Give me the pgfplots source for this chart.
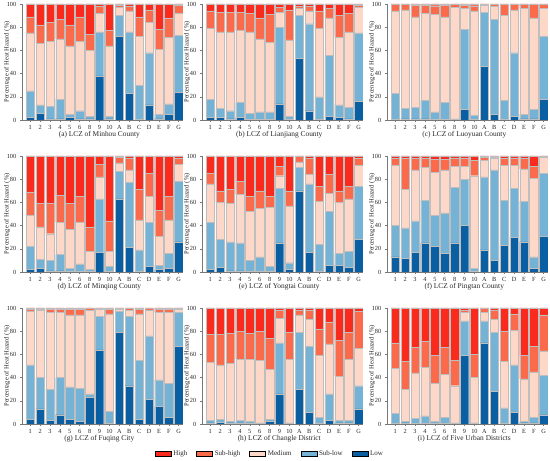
\documentclass[border=0pt]{standalone}
\usepackage{fontspec}
\setmainfont{Liberation Serif}
\usepackage{pgfplots}
\usepackage{pgfplotstable}
\pgfplotsset{compat=1.18}
\definecolor{cHigh}{RGB}{250,42,28}
\definecolor{cSubHigh}{RGB}{251,106,74}
\definecolor{cMed}{RGB}{253,215,199}
\definecolor{cSubLow}{RGB}{116,178,214}
\definecolor{cLow}{RGB}{10,94,162}
\definecolor{bargray}{RGB}{190,190,190}
\definecolor{axgray}{RGB}{120,120,120}

% columns: x, Low, Sub-low, Medium, Sub-high, High (percent)
\pgfplotstableread{
x L SL M SH H
0 2 23 50 14 11
1 6 7 53 16 18
2 1 11 56 16 16
3 1 17 52 17 13
4 2 3 59 18 18
5 1 7 60 21 11
6 1 2 57 14 26
7 38 38 16 6 2
8 1 2 61 13 23
9 72 18 7 2 1
10 23 53 18 4 2
11 0.5 29.5 42 17 11
12 13 45 26 11 5
13 1 4 56 17 22
14 5 9 57 17 12
15 24 49 19 7 1
}\tblA
\pgfplotstableread{
x L SL M SH H
0 2 16 61 15 6
1 2 8 66 17 7
2 1 7 68 17 7
3 2 13 62 16 7
4 0.5 5.5 70 16 8
5 0.5 6.5 63 18 12
6 0.5 6.5 60 24 9
7 14 66 13 4 3
8 0.5 2.5 66 26 5
9 53 37 6 2 2
10 8 75 11 4 2
11 0.5 19.5 59 15 6
12 3 53 32 8 4
13 2 11 58 19 10
14 1 10 65 16 8
15 16 59 22 2 1
}\tblB
\pgfplotstableread{
x L SL M SH H
0 0.5 22.5 71 5.5 0.5
1 1 9 85 4.5 0.5
2 1 10 78 10 1
3 1 16 75 7 1
4 0.5 6.5 84 7.5 1.5
5 0.5 14.5 74 10 1
6 0.5 0.5 96 2.5 0.5
7 9 69 18 3 1
8 0.5 3.5 90 4.5 1.5
9 46 47 6 0.8 0.2
10 5 82 11 1.5 0.5
11 0.5 16.5 73 9.5 0.5
12 3 55 37 4.5 0.5
13 1 4 91 3.5 0.5
14 1 8 79 11.5 0.5
15 18 54 24 3.5 0.5
}\tblC
\pgfplotstableread{
x L SL M SH H
0 2 20 27 20 31
1 3 8 28 20 41
2 1 9 23 26 41
3 1 14 28 23 34
4 0.5 2.5 34 22 41
5 0.5 6.5 36 22 35
6 0.5 1.5 16 21 61
7 17 46 19 11 7
8 0.5 4.5 13 26 56
9 63 24 7 5 1
10 21 56 11 10 2
11 0.5 18.5 26 26 29
12 5 38 22 20 15
13 2 4 25 22 47
14 3 13 29 20 35
15 26 52 15 5 2
}\tblD
\pgfplotstableread{
x L SL M SH H
0 2 41 33 9 15
1 4 24 32 10 30
2 1 25 33 12 29
3 1 24 42 11 22
4 0.5 9.5 42 13 35
5 0.5 12.5 42 15 30
6 0.5 4.5 51 9 35
7 25 47 11 8 9
8 2 6 49 13 30
9 70 20 5 4.5 0.5
10 17 59 8 14 2
11 0.5 23.5 37 13 26
12 6 46 16 16 16
13 6 10 44 10 30
14 4 14 45 11 26
15 28 46 18 6 2
}\tblE
\pgfplotstableread{
x L SL M SH H
0 13 27 52 6 2
1 12 26 33 27 2
2 17 27 44 10 2
3 25 37 28 8 2
4 22 27 37 11 3
5 16 35 37 9 3
6 25 48 18 7 2
7 40 40 11 7 2
8 0.5 2.5 80 13 4
9 19 63 14 3 1
10 10 78 10 1 1
11 23 39 30 6 2
12 30 42 20 6 2
13 26 35 28 9 2
14 3 10 68 10 9
15 31 54 14 0.5 0.5
}\tblF
\pgfplotstableread{
x L SL M SH H
0 4 47 46 2 1
1 13 27 58 1 1
2 3 27 66 3 1
3 8 32 56 3 1
4 4 28 62 5 1
5 2 29 63 5 1
6 23 3 72 1.5 0.5
7 64 29 6 0.5 0.5
8 0.5 10.5 84 4 1
9 79 18 2 0.8 0.2
10 33 60 5 1.5 0.5
11 4 51 40 4 1
12 21 55 22 1.5 0.5
13 15 23 58 3 1
14 6 29 61 3 1
15 67 29 3 0.8 0.2
}\tblG
\pgfplotstableread{
x L SL M SH H
0 1 2 50 24 23
1 1.5 2.5 47 26 23
2 1 1 50 26 22
3 1 2 53 24 20
4 0.5 1.5 54 22 22
5 0.5 0.5 54 25 20
6 2 2 43 27 26
7 26 44 21 7 2
8 0.5 0.5 55 23 21
9 30 49 15 4 2
10 10 57 23 8 2
11 0.5 5.5 53 23 18
12 3 23 43 19 12
13 1 2 38 31 28
14 1 2 53 23 21
15 13 20 32 32 3
}\tblH
\pgfplotstableread{
x L SL M SH H
0 0.5 8.5 39 22 30
1 1 1 28 24 46
2 0.5 4.5 39 22 34
3 0.5 6.5 42 22 29
4 0.5 1.5 33 24 41
5 0.5 5.5 37 23 34
6 0.5 0.5 32 22 45
7 59 30 7 2 2
8 0.5 0.5 39 20 40
9 70 19 7 3.5 0.5
10 28 51 11 8 2
11 0.5 13.5 40 26 20
12 10 41 30 14 5
13 1 1 37 20 41
14 1 5 39 22 33
15 8 34 21 31 6
}\tblI

\pgfplotsset{
  lcz/.style={
    anchor=south west,
    scale only axis, width=161pt, height=116pt,
    ybar stacked, bar width=0.85,
    xmin=-0.83, xmax=15.43, ymin=0, ymax=100,
    xtick={0,...,15},
    xticklabels={1,2,3,4,5,6,8,9,10,A,B,C,D,E,F,G},
    ytick={0,20,40,60,80,100},
    axis x line*=bottom, axis y line*=left,
    axis line style={draw=axgray, line width=0.5pt},
    tick align=outside, major tick length=2.2pt,
    tick style={draw=axgray, line width=0.5pt},
    ticklabel style={font=\fontsize{6.3}{7}\selectfont, text=black!85},
    xticklabel style={yshift=0.5pt},
    /pgf/number format/assume math mode=true,
    ylabel={Percentage of Heat Hazard (\%)},
    ylabel style={font=\fontsize{6.5}{7.5}\selectfont, text=black!85,
      at={(axis description cs:-0.093,0.5)}, anchor=center},
    xlabel style={font=\fontsize{7.4}{9}\selectfont, text=black!85,
      at={(axis description cs:0.48,-0.124)}, anchor=center},
    every axis plot/.append style={draw=bargray, line width=0.4pt},
  },
}

\newcommand{\stackbars}[1]{%
  \addplot[fill=cLow] table[x=x,y=L]{#1};
  \addplot[fill=cSubLow] table[x=x,y=SL]{#1};
  \addplot[fill=cMed] table[x=x,y=M]{#1};
  \addplot[fill=cSubHigh] table[x=x,y=SH]{#1};
  \addplot[fill=cHigh] table[x=x,y=H]{#1};
}

\begin{document}
\begin{tikzpicture}
\useasboundingbox (0pt,0pt) rectangle (550pt,461pt);

\begin{axis}[lcz, at={(22pt,341pt)}, xlabel={(a) LCZ of Minhou County}]
\stackbars{\tblA}
\end{axis}
\begin{axis}[lcz, at={(202pt,341pt)}, xlabel={(b) LCZ of Lianjiang County}]
\stackbars{\tblB}
\end{axis}
\begin{axis}[lcz, at={(387pt,341pt)}, xlabel={(c) LCZ of Luoyuan County}]
\stackbars{\tblC}
\end{axis}

\begin{axis}[lcz, at={(22pt,189pt)}, xlabel={(d) LCZ of Minqing County}]
\stackbars{\tblD}
\end{axis}
\begin{axis}[lcz, at={(202pt,189pt)}, xlabel={(e) LCZ of Yongtai County}]
\stackbars{\tblE}
\end{axis}
\begin{axis}[lcz, at={(387pt,189pt)}, xlabel={(f) LCZ of Pingtan County}]
\stackbars{\tblF}
\end{axis}

\begin{axis}[lcz, at={(22pt,37pt)}, xlabel={(g) LCZ of Fuqing City}]
\stackbars{\tblG}
\end{axis}
\begin{axis}[lcz, at={(202pt,37pt)}, xlabel={(h) LCZ of Changle District}]
\stackbars{\tblH}
\end{axis}
\begin{axis}[lcz, at={(387pt,37pt)}, xlabel={(i) LCZ of Five Urban Districts}]
\stackbars{\tblI}
\end{axis}

% legend
\begin{axis}[hide axis, scale only axis, width=10pt, height=10pt,
  at={(270pt,7.3pt)}, anchor=center,
  xmin=0, xmax=1, ymin=0, ymax=1,
  legend columns=5,
  legend image code/.code={\fill[#1] (0pt,-2.9pt) rectangle (16pt,2.9pt);},
  legend style={at={(0.5,0.5)}, anchor=center, draw=none, fill=none,
    font=\fontsize{7}{8}\selectfont, text=black!85,
    /tikz/every even column/.append style={column sep=7pt},
    inner sep=0pt}]
\addlegendimage{fill=cHigh}\addlegendentry{High}
\addlegendimage{fill=cSubHigh}\addlegendentry{Sub-high}
\addlegendimage{fill=cMed}\addlegendentry{Medium}
\addlegendimage{fill=cSubLow}\addlegendentry{Sub-low}
\addlegendimage{fill=cLow}\addlegendentry{Low}
\end{axis}
\end{tikzpicture}
\end{document}
